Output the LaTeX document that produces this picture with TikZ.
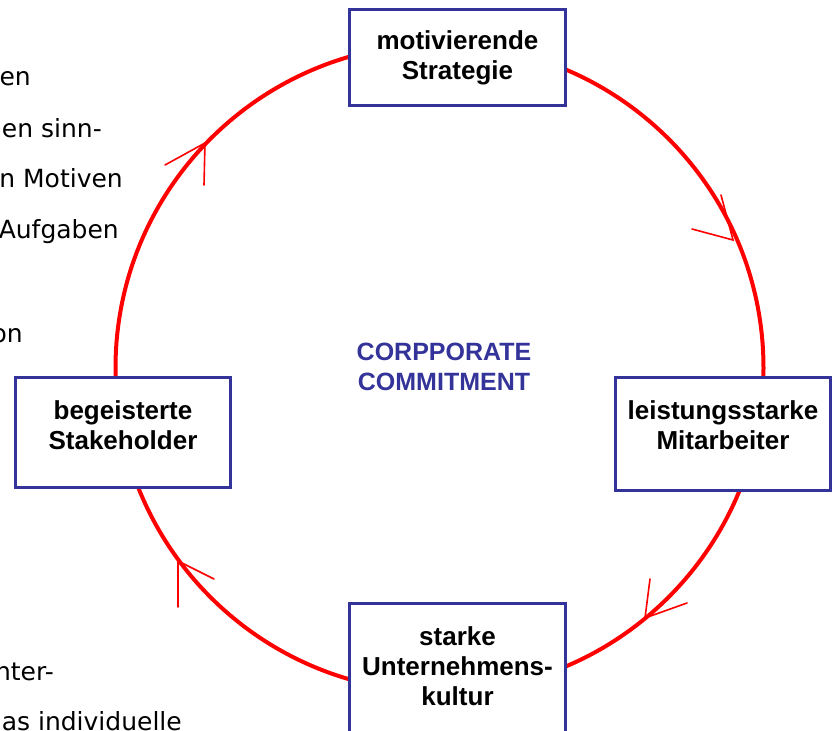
\documentclass[tikz,border=0pt]{standalone}
\usepackage{fontspec}
\setmainfont{Liberation Sans}
\newfontfamily\notefont{DejaVu Sans}
\definecolor{boxblue}{HTML}{333399}
\begin{document}
\begin{tikzpicture}[x=1pt,y=-1pt,
  cycle/.style={draw=red, line width=4pt},
  wing/.style={draw=red, line width=1.6pt, line cap=round},
  stagebox/.style={rectangle, draw=boxblue, line width=3pt, fill=white,
    inner sep=0pt, outer sep=0pt},
  stagetext/.style={align=center, inner sep=0pt,
    font=\fontsize{26}{30}\selectfont\bfseries},
  centretext/.style={align=center, inner sep=0pt, text=boxblue,
    font=\fontsize{25}{30}\selectfont\bfseries},
  note/.style={anchor=base east, inner sep=0pt,
    font=\notefont\fontsize{25}{30}\selectfont}]
\useasboundingbox (0,0) rectangle (836,731);

% slide text running behind the diagram
\node[note] (n1) at (31,85) {en};
\node[note] (n2) at (102,137) {en sinn-};
\node[note] (n3) at (123,187) {n Motiven};
\node[note] (n4) at (119,238) {Aufgaben};
\node[note] (n5) at (23,342) {on};
\node[note] (n6) at (54,680) {nter-};
\node[note] (n7) at (182,730) {as individuelle};

% the cycle
\coordinate (c) at (439.5,368);
\draw[cycle] (c) circle (324);

% open arrow heads along the cycle (clockwise)
\coordinate (t1) at (205,143);
\coordinate (t2) at (733,240);
\coordinate (t3) at (645,618);
\coordinate (t4) at (178,561);
\draw[wing] (165,165) -- (t1) -- (204,185);
\draw[wing] (692,229) -- (t2) -- (721,195);
\draw[wing] (650,579) -- (t3) -- (687,603);
\draw[wing] (178,607) -- (t4) -- (214,579);

% stage boxes
\node[stagebox, minimum width=216, minimum height=96] (strat) at (457.5,57.5) {};
\node[stagebox, minimum width=215, minimum height=113] (staff) at (723,434) {};
\node[stagebox, minimum width=216, minimum height=140] (culture) at (457.5,673.5) {};
\node[stagebox, minimum width=215, minimum height=110] (stake) at (123,432.5) {};

\node[stagetext] (strat-t) at (457.5,58) {motivierende\\Strategie};
\node[stagetext] (staff-t) at (723,425) {leistungsstarke\\Mitarbeiter};
\node[stagetext] (culture-t) at (457.5,666.5) {starke\\Unternehmens-\\kultur};
\node[stagetext] (stake-t) at (123,425) {begeisterte\\Stakeholder};

% centre label
\node[centretext] (core) at (444,367) {CORPPORATE\\COMMITMENT};
\end{tikzpicture}
\end{document}
